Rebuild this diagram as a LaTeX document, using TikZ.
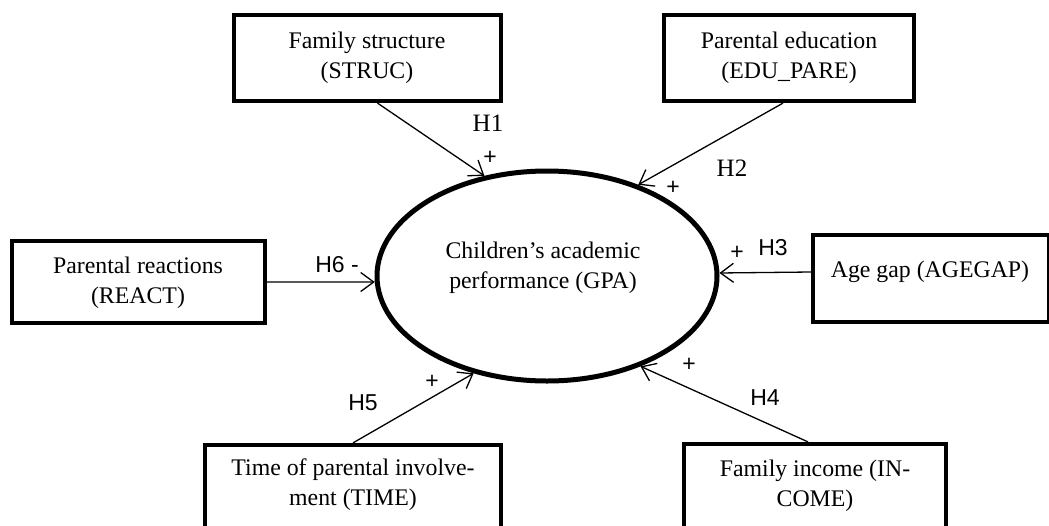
\documentclass[tikz,border=0pt]{standalone}
\usepackage{fontspec}
\setmainfont{Liberation Serif}
\newfontfamily\sansf{Liberation Sans}
\usetikzlibrary{shapes.geometric,arrows.meta}
\newcommand\twoline[2]{\begin{tabular}{@{}c@{}}#1\\#2\end{tabular}}
\begin{document}
\begin{tikzpicture}[x=1pt,y=-1pt,
  box/.style={draw, line width=4.2pt, rectangle, inner sep=0pt},
  txt/.style={inner sep=0pt, font=\fontsize{23.8}{30}\selectfont},
  conn/.style={line width=1.3pt, -{Straight Barb[length=13pt,width=19pt,line width=1.3pt]}},
  hser/.style={inner sep=0pt, font=\rmfamily\fontsize{25}{28}\selectfont},
  hsan/.style={inner sep=0pt, font=\sansf\fontsize{23}{26}\selectfont},
  plus/.style={inner sep=0pt, font=\sansf\fontsize{23}{26}\selectfont}
]
\useasboundingbox (0,0) rectangle (1049,525);
% boxes
\node[box, minimum width=267pt, minimum height=86pt] (struc) at (367.5,58) {};
\node[box, minimum width=250pt, minimum height=86pt] (edu) at (789,58) {};
\node[box, minimum width=253pt, minimum height=82pt] (react) at (138.5,282) {};
\node[box, minimum width=236pt, minimum height=87pt] (age) at (931,278.5) {};
\node[box, minimum width=296pt, minimum height=93pt] (time) at (353,491.5) {};
\node[box, minimum width=262pt, minimum height=94pt] (income) at (815,491) {};
\node[draw, ellipse, line width=5pt, inner sep=0pt, minimum width=340pt, minimum height=210pt] (gpa) at (547,276) {};
% texts
\node[txt] (strucT) at (367,57) {\twoline{Family structure}{(STRUC)}};
\node[txt] (eduT) at (789,57) {\twoline{Parental education}{(EDU\_PARE)}};
\node[txt] (reactT) at (138,282.5) {\twoline{Parental reactions}{(REACT)}};
\node[txt] (ageT) at (930,272) {Age gap (AGEGAP)};
\node[txt] (timeT) at (353,484) {\twoline{Time of parental involve-}{ment (TIME)}};
\node[txt] (incomeT) at (815,485) {\twoline{Family income (IN-}{COME)}};
\node[txt] (gpaT) at (543,267) {\twoline{Children’s academic}{performance (GPA)}};
% connectors
\draw[conn] ([xshift=10pt]struc.south) -- (gpa.122.4);
\draw[conn] ([xshift=-6pt]edu.south) -- (gpa.45.3);
\draw[conn] ([yshift=6.5pt]age.west) -- (gpa.1.3);
\draw[conn] (react.east) -- (gpa.182);
\draw[conn] (time.north) -- (gpa.233.7);
\draw[conn] ([xshift=-7pt]income.north) -- (gpa.316);
% labels
\node[hser] (h1) at (488,123) {H1};
\node[hser] (h2) at (732,168) {H2};
\node[hsan] (h3) at (773,248) {H3};
\node[hsan] (h4) at (765,398) {H4};
\node[hsan] (h5) at (363,403) {H5};
\node[hsan] (h6) at (337,265) {H6 -};
\node[plus] (p1) at (490,158) {+};
\node[plus] (p2) at (673,188) {+};
\node[plus] (p3) at (737,253) {+};
\node[plus] (p4) at (689,365) {+};
\node[plus] (p5) at (432,382) {+};
\end{tikzpicture}
\end{document}
